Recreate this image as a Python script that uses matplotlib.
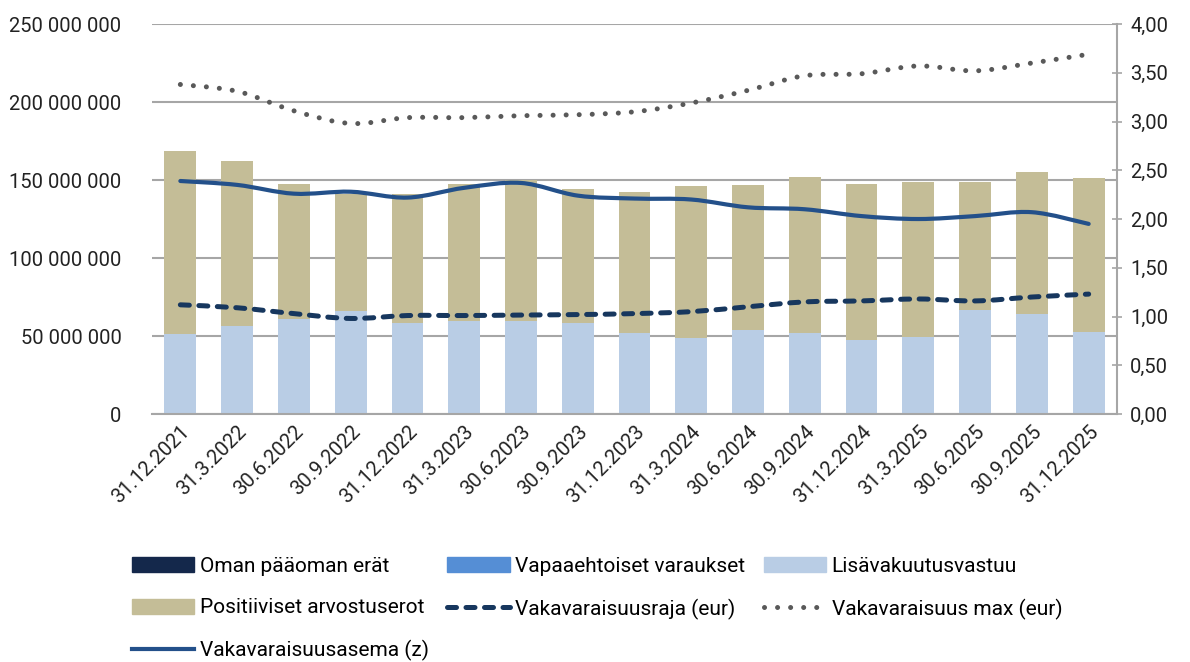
import numpy as np
import matplotlib
matplotlib.use('Agg')
import matplotlib.pyplot as plt
from matplotlib.path import Path
from matplotlib.patches import PathPatch, Patch
from matplotlib.lines import Line2D
from matplotlib.ticker import FuncFormatter, MultipleLocator

# data
dates = ['31.12.2021', '31.3.2022', '30.6.2022', '30.9.2022', '31.12.2022',
         '31.3.2023', '30.6.2023', '30.9.2023', '31.12.2023', '31.3.2024',
         '30.6.2024', '30.9.2024', '31.12.2024', '31.3.2025', '30.6.2025',
         '30.9.2025', '31.12.2025']

oman_paaoma = [0] * 17
vapaaehtoiset = [0] * 17
lisavakuutus = [51.1, 56.4, 60.7, 65.8, 58.5, 59.6, 59.6, 58.5, 51.9, 48.9,
                53.8, 51.7, 47.4, 49.6, 66.7, 64.3, 52.4]  # milj. eur
bar_totals = [168.6, 162.2, 147.4, 141.0, 141.0, 147.4, 150.0, 144.2, 142.3, 146.2,
              146.8, 151.9, 147.4, 148.7, 148.7, 155.1, 151.3]  # milj. eur

vakavaraisuusraja = [1.12, 1.09, 1.03, 0.98, 1.01, 1.01, 1.015, 1.02, 1.03, 1.05,
                     1.10, 1.15, 1.16, 1.18, 1.16, 1.20, 1.23]
vakavaraisuus_max = [3.38, 3.31, 3.11, 2.98, 3.04, 3.04, 3.06, 3.07, 3.10, 3.19,
                     3.32, 3.47, 3.49, 3.57, 3.52, 3.60, 3.69]
vakavaraisuusasema = [2.39, 2.35, 2.26, 2.28, 2.22, 2.32, 2.37, 2.24, 2.21, 2.20,
                      2.12, 2.10, 2.03, 2.00, 2.03, 2.07, 1.95]

positiiviset = [t - b for t, b in zip(bar_totals, lisavakuutus)]

C_OMAN = '#14284B'
C_VAPAA = '#558ED5'
C_LISA = '#B9CDE5'
C_POS = '#C4BD97'
C_RAJA = '#17375E'
C_MAX = '#595959'
C_ASEMA = '#23508A'
GRID = '#A6A6A6'


def smooth_path(xs, ys):
    # Excel-style smoothed line as cubic bezier segments
    pts = np.column_stack([xs, ys]).astype(float)
    n = len(pts)
    verts = [pts[0]]
    codes = [Path.MOVETO]
    for i in range(n - 1):
        p0 = pts[max(i - 1, 0)]
        p1 = pts[i]
        p2 = pts[i + 1]
        p3 = pts[min(i + 2, n - 1)]
        c1 = p1 + (p2 - p0) / 6
        c2 = p2 - (p3 - p1) / 6
        verts += [c1, c2, p2]
        codes += [Path.CURVE4] * 3
    return Path(verts, codes)


plt.rcParams['font.family'] = ['Roboto', 'DejaVu Sans']

fig = plt.figure(figsize=(11.9, 6.62), dpi=100)
ax = fig.add_axes([0.1277, 0.3746, 0.8110, 0.5891])
ax2 = ax.twinx()

x = np.arange(len(dates))
w = 0.56
scale = 1e6
b0 = np.zeros(len(x))
ax.bar(x, np.array(oman_paaoma) * scale, w, bottom=b0, color=C_OMAN, zorder=2)
b0 = b0 + np.array(oman_paaoma) * scale
ax.bar(x, np.array(vapaaehtoiset) * scale, w, bottom=b0, color=C_VAPAA, zorder=2)
b0 = b0 + np.array(vapaaehtoiset) * scale
ax.bar(x, np.array(lisavakuutus) * scale, w, bottom=b0, color=C_LISA, zorder=2)
b0 = b0 + np.array(lisavakuutus) * scale
ax.bar(x, np.array(positiiviset) * scale, w, bottom=b0, color=C_POS, zorder=2)

ax.set_ylim(0, 250e6)
ax.set_xlim(-0.5, len(x) - 0.5)
ax.yaxis.set_major_locator(MultipleLocator(50e6))
ax.yaxis.set_major_formatter(FuncFormatter(lambda v, p: f'{int(v):,}'.replace(',', ' ')))
ax.grid(axis='y', color=GRID, linewidth=1.5, zorder=0)
ax.set_axisbelow(True)
for s in ['top', 'left', 'right']:
    ax.spines[s].set_visible(False)
ax.spines['bottom'].set_color(GRID)
ax.spines['bottom'].set_linewidth(1.5)
ax.tick_params(axis='y', length=0, labelsize=14.5, pad=22, colors='#222222')
ax.tick_params(axis='x', length=0, labelsize=14.5, pad=6, colors='#222222')
ax.set_xticks(x)
ax.set_xticklabels(dates, rotation=45, ha='right', va='top', rotation_mode='anchor')

ax2.set_ylim(0, 4)
ax2.yaxis.set_major_locator(MultipleLocator(0.5))
ax2.yaxis.set_major_formatter(FuncFormatter(lambda v, p: f'{v:.2f}'.replace('.', ',')))
for s in ['top', 'left', 'bottom']:
    ax2.spines[s].set_visible(False)
ax2.spines['right'].set_color(GRID)
ax2.spines['right'].set_linewidth(1.5)
ax2.tick_params(axis='y', direction='inout', length=7, width=1.2, color=GRID,
                labelsize=14.5, pad=6, labelcolor='#222222')

raja_ls = (0, (1.8, 1.9))
max_ls = (0, (0.01, 2.6))
p_raja = PathPatch(smooth_path(x, vakavaraisuusraja), fill=False, edgecolor=C_RAJA,
                   linewidth=3.6, linestyle=raja_ls, capstyle='round', zorder=3)
p_max = PathPatch(smooth_path(x, vakavaraisuus_max), fill=False, edgecolor=C_MAX,
                  linewidth=3.6, linestyle=max_ls, capstyle='round', zorder=3)
p_asema = PathPatch(smooth_path(x, vakavaraisuusasema), fill=False, edgecolor=C_ASEMA,
                    linewidth=3.0, capstyle='round', zorder=3)
for p in (p_raja, p_max, p_asema):
    ax2.add_patch(p)

h_oman = Patch(color=C_OMAN, label='Oman pääoman erät')
h_vapaa = Patch(color=C_VAPAA, label='Vapaaehtoiset varaukset')
h_lisa = Patch(color=C_LISA, label='Lisävakuutusvastuu')
h_pos = Patch(color=C_POS, label='Positiiviset arvostuserot')
h_raja = Line2D([], [], color=C_RAJA, lw=3.6, ls=raja_ls,
                dash_capstyle='round', label='Vakavaraisuusraja (eur)')
h_max = Line2D([], [], color=C_MAX, lw=3.6, ls=max_ls,
               dash_capstyle='round', label='Vakavaraisuus max (eur)')
h_asema = Line2D([], [], color=C_ASEMA, lw=3.0, label='Vakavaraisuusasema (z)')

# row-major order for a 3-column legend
handles = [h_oman, h_pos, h_asema, h_vapaa, h_raja, h_lisa, h_max]
fig.legend(handles=handles, ncol=3, loc='upper left', bbox_to_anchor=(0.102, 0.175),
           frameon=False, prop={'size': 15},
           handlelength=3.0, handleheight=0.75, handletextpad=0.25, columnspacing=0.9,
           labelspacing=1.1, borderpad=0)

fig.savefig('out.png', dpi=100)
